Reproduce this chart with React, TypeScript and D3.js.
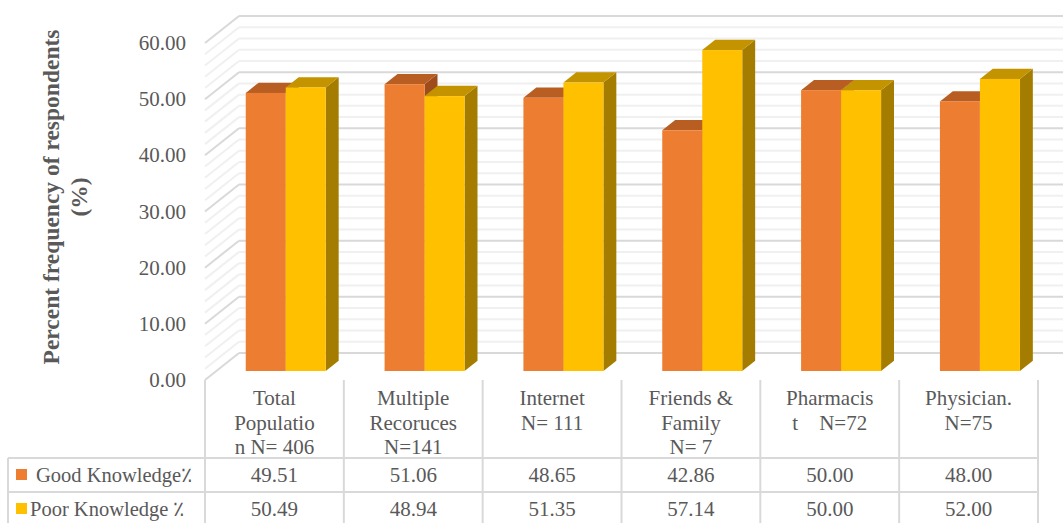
import React from 'react';
import * as d3 from 'd3';

const categories = ['Total Population', 'Multiple Recoruces', 'Internet', 'Friends & Family', 'Pharmacist', 'Physician.'];
const headerLines = [
  ['Total', 'Populatio', 'n N= 406'],
  ['Multiple', 'Recoruces', 'N=141'],
  ['Internet', 'N= 111'],
  ['Friends &', 'Family', 'N= 7'],
  ['Pharmacis', 't    N=72'],
  ['Physician.', 'N=75'],
];
const goodKnowledge = [49.51, 51.06, 48.65, 42.86, 50.0, 48.0];
const poorKnowledge = [50.49, 48.94, 51.35, 57.14, 50.0, 52.0];
const seriesNames = ['Good Knowledge٪', 'Poor Knowledge ٪'];
const yTicks = [0, 10, 20, 30, 40, 50, 60];
const minorTicks = d3.range(0, 61, 2);

const W = 1063;
const H = 523;
const font = 'Liberation Serif';
const textColor = '#595959';

// floor front edge and depth of the 3D box
const left = 205;
const right = 1038;
const depthX = 34;
const depthY = -27;
const barFront = 1 / 3;
const barDepth = 0.38;

const colors = [
  { front: '#ED7D31', top: '#B95E22', side: '#9E4C1B' },
  { front: '#FFC000', top: '#C39300', side: '#A47C00' },
];

export default function App() {
  const y = d3.scaleLinear().domain([0, 60]).range([380, 43]);
  const x = d3.scaleBand().domain(categories).range([left, right]).padding(0);
  const bw = x.bandwidth();
  const groupW = 80;
  const inner = d3
    .scaleBand()
    .domain(['good', 'poor'])
    .range([(bw - groupW) / 2, (bw + groupW) / 2]);

  const ox = (f: number) => depthX * f;
  const oy = (f: number) => depthY * f;

  const bars: JSX.Element[] = [];
  categories.forEach((c, i) => {
    [goodKnowledge[i], poorKnowledge[i]].forEach((v, s) => {
      const key = s === 0 ? 'good' : 'poor';
      const x0 = (x(c) as number) + (inner(key) as number) + ox(barFront);
      const x1 = x0 + inner.bandwidth();
      const yb = y(0) + oy(barFront);
      const yt = y(v) + oy(barFront);
      const dx = ox(barDepth);
      const dy = oy(barDepth);
      const col = colors[s];
      bars.push(
        <g key={`${c}-${s}`}>
          <path d={`M${x1},${yb}L${x1 + dx},${yb + dy}L${x1 + dx},${yt + dy}L${x1},${yt}Z`} fill={col.side} />
          <path d={`M${x0},${yt}L${x0 + dx},${yt + dy}L${x1 + dx},${yt + dy}L${x1},${yt}Z`} fill={col.top} />
          <rect x={x0} y={yt} width={x1 - x0} height={yb - yt} fill={col.front} />
        </g>
      );
    });
  });

  const rowTop = 458;
  const rowH = 34;
  const txt = { fontFamily: font, fill: textColor };

  return (
    <svg width={W} height={H} style={{ position: 'absolute', left: 0, top: 0, background: '#fff' }}>
      {/* back wall and side wall gridlines */}
      {minorTicks.map((t) => {
        const major = t % 10 === 0;
        const stroke = major ? '#D9D9D9' : '#F0F0F0';
        return (
          <g key={`g${t}`}>
            <line x1={left + depthX} x2={W} y1={y(t) + depthY} y2={y(t) + depthY} stroke={stroke} strokeWidth={2} />
            <line x1={left} x2={left + depthX} y1={y(t)} y2={y(t) + depthY} stroke={stroke} strokeWidth={2} />
          </g>
        );
      })}

      {bars}

      {/* y axis labels */}
      {yTicks.map((t) => (
        <text key={`t${t}`} x={186} y={y(t)} textAnchor="end" dominantBaseline="central" fontSize={21} {...txt}>
          {t.toFixed(2)}
        </text>
      ))}
      <text transform="translate(51,197) rotate(-90)" textAnchor="middle" dominantBaseline="central" fontSize={23.5} fontWeight="bold" {...txt}>
        Percent frequency of respondents
      </text>
      <text transform="translate(79,197) rotate(-90)" textAnchor="middle" dominantBaseline="central" fontSize={23.5} fontWeight="bold" {...txt}>
        (%)
      </text>

      {/* data table */}
      <g stroke="#D9D9D9" strokeWidth={2}>
        {categories.map((c) => (
          <line key={`v${c}`} x1={x(c) as number} x2={x(c) as number} y1={380} y2={H + 4} />
        ))}
        <line x1={right} x2={right} y1={380} y2={H + 4} />
        <line x1={8} x2={8} y1={rowTop} y2={H + 4} />
        <line x1={8} x2={right} y1={rowTop} y2={rowTop} />
        <line x1={8} x2={right} y1={rowTop + rowH} y2={rowTop + rowH} />
      </g>
      {categories.map((c, i) => (
        <g key={`h${c}`}>
          {headerLines[i].map((ln, j) => (
            <text
              key={j}
              x={(x(c) as number) + bw / 2}
              y={398 + j * 24.5}
              textAnchor="middle"
              dominantBaseline="central"
              fontSize={21}
              {...txt}
              style={{ whiteSpace: 'pre' }}
            >
              {ln}
            </text>
          ))}
          <text x={(x(c) as number) + bw / 2} y={rowTop + rowH / 2} textAnchor="middle" dominantBaseline="central" fontSize={21} {...txt}>
            {goodKnowledge[i].toFixed(2)}
          </text>
          <text x={(x(c) as number) + bw / 2} y={rowTop + rowH * 1.5} textAnchor="middle" dominantBaseline="central" fontSize={21} {...txt}>
            {poorKnowledge[i].toFixed(2)}
          </text>
        </g>
      ))}
      {/* legend keys */}
      <rect x={16} y={469} width={11} height={11} fill={colors[0].front} />
      <text x={36} y={rowTop + rowH / 2} dominantBaseline="central" fontSize={20.5} {...txt}>
        {seriesNames[0]}
      </text>
      <rect x={16} y={503} width={11} height={11} fill={colors[1].front} />
      <text x={30} y={rowTop + rowH * 1.5} dominantBaseline="central" fontSize={20.5} {...txt}>
        {seriesNames[1]}
      </text>
    </svg>
  );
}
